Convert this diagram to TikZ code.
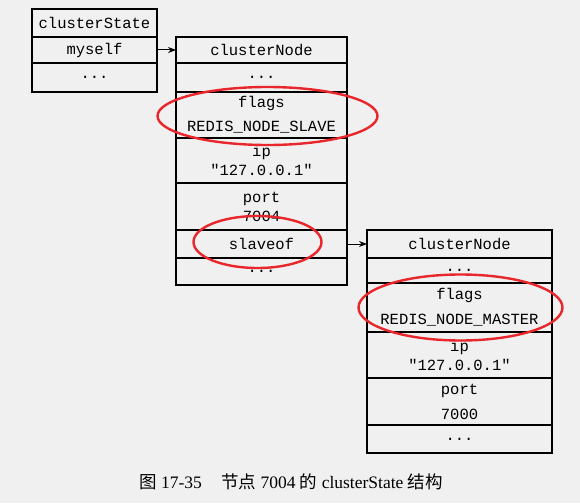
\documentclass[tikz,border=0pt]{standalone}
\usepackage{fontspec}
\setmainfont{Liberation Serif}
\setmonofont{Liberation Mono}
\newfontfamily\cjk{Noto Sans CJK SC}
\usepackage{tikz}
\usetikzlibrary{arrows.meta,positioning,calc}
\definecolor{pagebg}{HTML}{F0F0F0}
\definecolor{markred}{HTML}{E8262B}

\begin{document}
\begin{tikzpicture}[
    x=1pt, y=-1pt,
    every node/.style={font=\ttfamily\fontsize{15.5}{19}\selectfont},
    field/.style={draw, line width=1.4pt, inner sep=0pt, outer sep=0pt, align=center},
    state/.style={field, minimum width=125pt},
    slave/.style={field, minimum width=171pt},
    master/.style={field, minimum width=185pt},
    ptr/.style={-{Stealth[length=8pt,width=6pt]}, line width=1pt},
    hilite/.style={draw=markred, line width=2.4pt}
]
\fill[pagebg] (0,0) rectangle (580,503);

% clusterState
\node[state, minimum height=28pt, anchor=north] (cs) at (94.5,9) {clusterState};
\node[state, minimum height=26pt, below=0pt of cs] (myself) {myself};
\node[state, minimum height=29pt, below=0pt of myself] (csMore) {...};

% clusterNode of 7004
\node[slave, minimum height=26pt, anchor=north] (cnA) at (261.5,37) {clusterNode};
\node[slave, minimum height=29pt, below=0pt of cnA] (cnAMore) {...};
\node[slave, minimum height=46pt, below=0pt of cnAMore] (flagsA) {flags\\[5pt]REDIS\_NODE\_SLAVE};
\node[slave, minimum height=45pt, below=0pt of flagsA] (ipA) {ip\\"127.0.0.1"};
\node[slave, minimum height=47pt, below=0pt of ipA] (portA) {port\\7004};
\node[slave, minimum height=28pt, below=0pt of portA] (slaveof) {slaveof};
\node[slave, minimum height=27pt, below=0pt of slaveof] (cnAEnd) {...};

% clusterNode of 7000
\node[master, minimum height=28pt, anchor=north] (cnB) at (459.5,230) {clusterNode};
\node[master, minimum height=25pt, below=0pt of cnB] (cnBMore) {...};
\node[master, minimum height=49pt, below=0pt of cnBMore] (flagsB) {flags\\[6pt]REDIS\_NODE\_MASTER};
\node[master, minimum height=46pt, below=0pt of flagsB] (ipB) {ip\\"127.0.0.1"};
\node[master, minimum height=47pt, below=0pt of ipB] (portB) {port\\[6pt]7000};
\node[master, minimum height=28pt, below=0pt of portB] (cnBEnd) {...};

\draw[ptr] (myself.east) -- (cnA.west);
\draw[ptr] (slaveof.east) -- (cnB.west);

% red marks
\draw[hilite] ($(flagsA)+(6,1)$) ellipse [x radius=110, y radius=29];
\draw[hilite] ($(slaveof)+(-4,-2)$) ellipse [x radius=64, y radius=26];
\draw[hilite] ($(flagsB)+(1,0)$) ellipse [x radius=102, y radius=33];

\node[font=\rmfamily\fontsize{17.5}{20}\selectfont] (caption) at (291,482)
    {{\cjk 图} 17-35\hspace{1.1em}{\cjk 节点} 7004 {\cjk 的} clusterState {\cjk 结构}};
\end{tikzpicture}
\end{document}
